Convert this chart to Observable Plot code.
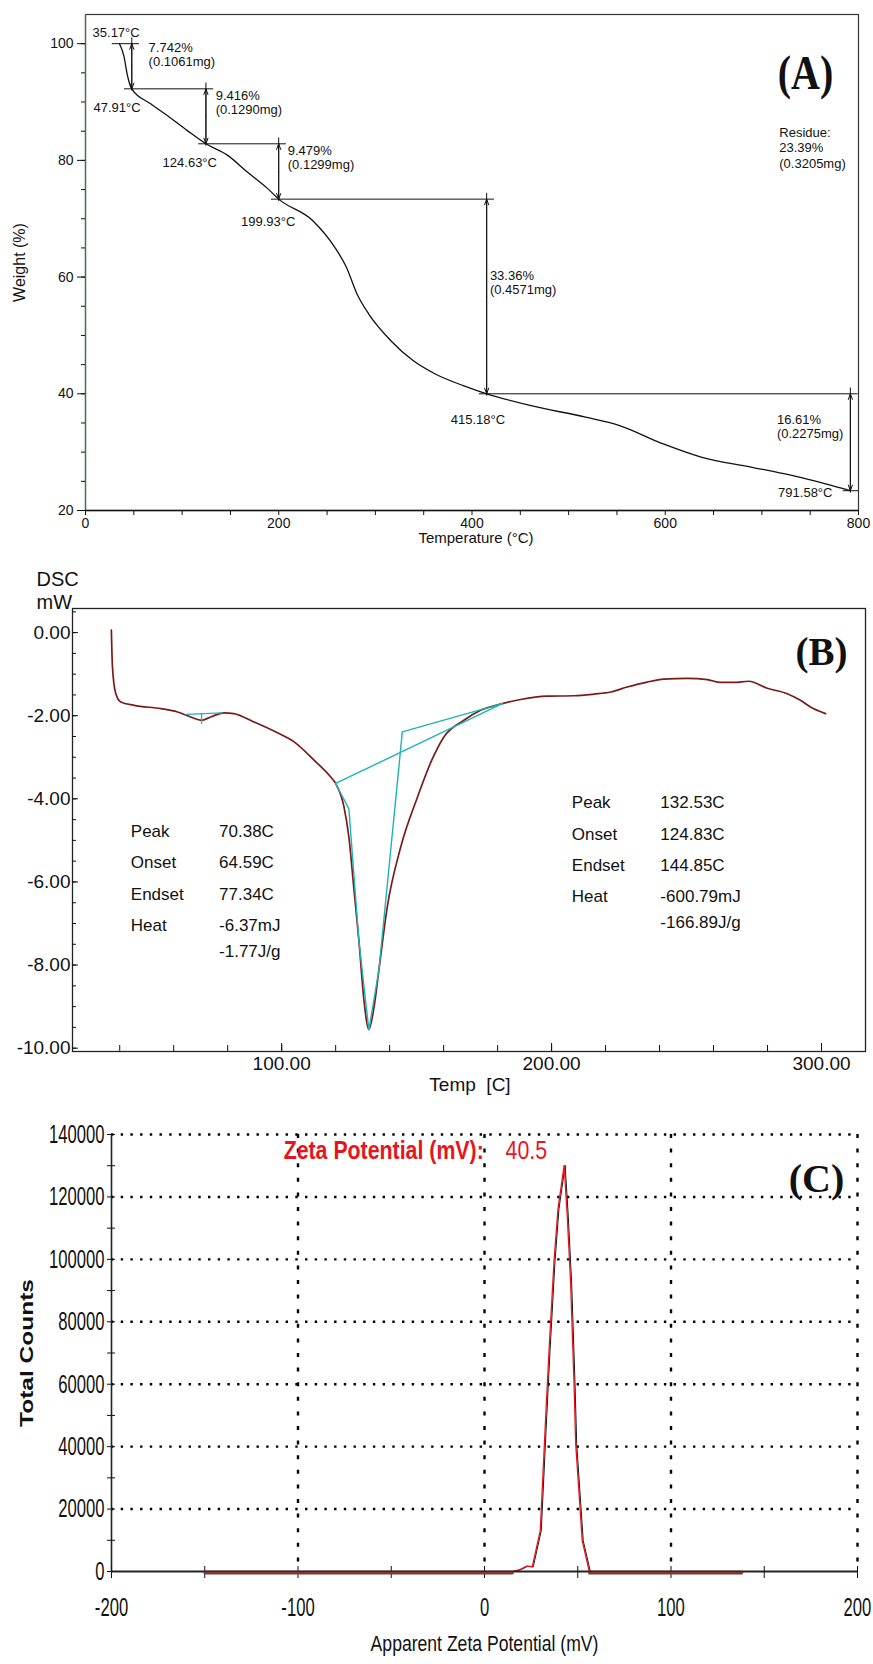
<!DOCTYPE html>
<html><head><meta charset="utf-8">
<script src="https://cdn.jsdelivr.net/npm/d3@7"></script>
<script src="https://cdn.jsdelivr.net/npm/@observablehq/plot@0.6"></script>
<style>
body{margin:0;background:#fff;}
#wrap{position:relative;width:873px;height:1664px;overflow:hidden;background:#fff;}
.panel{position:absolute;left:0;}
</style></head>
<body><div id="wrap"><div id="pa" class="panel" style="top:0"></div><div id="pb" class="panel" style="top:550px"></div><div id="pc" class="panel" style="top:1110px"></div></div>
<script>
// ================= DATA =================
// (A) TGA curve
const tgaTemp = [35.17, 39.7, 43.1, 47.91, 67.4, 84.6, 105.4, 124.63, 146.8, 167.5, 188.3, 199.93, 235, 258, 270, 281, 293, 316, 339, 362, 391, 415.18, 460, 517.5, 552, 598, 638, 690, 731, 765, 791.58];
const tgaWeight = [100, 97.9, 94.8, 92.26, 89.7, 87.7, 85.1, 82.84, 80.9, 78.0, 75.2, 73.36, 69.7, 65.1, 61.7, 57.1, 53.7, 49.1, 45.7, 43.4, 41.4, 40.0, 38.0, 36.0, 34.6, 31.4, 29.1, 27.4, 26.0, 24.6, 23.39];
const stepTemp = [35.17, 47.91, 124.63, 199.93, 415.18, 791.58];
const stepWeight = [100, 92.26, 82.84, 73.36, 40.00, 23.39];
const lossPct = ["7.742%", "9.416%", "9.479%", "33.36%", "16.61%"];
const lossMg = ["(0.1061mg)", "(0.1290mg)", "(0.1299mg)", "(0.4571mg)", "(0.2275mg)"];
const residueText = ["Residue:", "23.39%", "(0.3205mg)"];
const tgaXTicks = [0, 200, 400, 600, 800];
const tgaYTicks = [20, 40, 60, 80, 100];

// (B) DSC curve
const dscTemp = [36.9, 37.3, 38.5, 40.4, 45.3, 55.2, 61.4, 66.3, 70.3, 73.7, 78.6, 82.3, 89.7, 98.4, 104.6, 112, 118.1, 120, 123.1, 124.9, 126.8, 128.6, 130.5, 132.3, 134.2, 136, 139.1, 144.1, 150.3, 155.6, 160.1, 167.5, 173.7, 181.7, 188.5, 198.4, 208.3, 215.7, 221.9, 228, 235.4, 241.6, 250.3, 257.7, 262.6, 267.5, 273.1, 279.9, 287.3, 292.2, 295.9, 301.5];
const dscMw = [0.06, -0.82, -1.46, -1.67, -1.75, -1.83, -1.91, -2.03, -2.11, -2.03, -1.93, -1.95, -2.15, -2.41, -2.63, -3.07, -3.47, -3.63, -4.20, -4.92, -6.20, -7.41, -8.86, -9.55, -9.02, -8.13, -6.61, -5.16, -3.96, -3.07, -2.51, -2.11, -1.87, -1.71, -1.61, -1.53, -1.52, -1.48, -1.43, -1.31, -1.19, -1.12, -1.10, -1.13, -1.20, -1.20, -1.17, -1.34, -1.47, -1.63, -1.79, -1.95];
const fitPeakTemp = [120, 124.9, 128.6, 132.3, 136, 144.7, 181.7];
const fitPeakMw = [-3.63, -4.24, -7.41, -9.56, -8.13, -2.39, -1.71];
const fitBaseTemp = [120, 181.7];
const fitBaseMw = [-3.63, -1.71];
const smallBaseTemp = [64.4, 78];
const smallBaseMw = [-1.97, -1.93];
const smallPeakTemp = [70.3, 70.3];
const smallPeakMw = [-1.95, -2.19];
const tableKeys = ["Peak", "Onset", "Endset", "Heat", ""];
const tableLeft = ["70.38C", "64.59C", "77.34C", "-6.37mJ", "-1.77J/g"];
const tableRight = ["132.53C", "124.83C", "144.85C", "-600.79mJ", "-166.89J/g"];
const dscXTicks = [100, 200, 300];
const dscYTicks = [0, -2, -4, -6, -8, -10];

// (C) Zeta potential
const zetaMv = [-150, 15, 19, 22.6, 25.6, 29.9, 32.8, 34.6, 37.3, 39.4, 42.7, 44.4, 46.2, 48.0, 48.9, 52.4, 56.2, 138];
const zetaCounts = [0, 0, 600, 1700, 1500, 13100, 49400, 70800, 99700, 116200, 130100, 113600, 92200, 60200, 40900, 9900, 0, 0];
const zetaValue = "40.5";
const zetaXTicks = [-200, -100, 0, 100, 200];
const zetaYTicks = [0, 20000, 40000, 60000, 80000, 100000, 120000, 140000];

// ================= LAYOUT (label anchors, in data units) =================
const tempLabelPos = [[7.3, 101.9], [8.3, 89.0], [79.8, 79.55], [161, 69.45], [378, 35.6], [716.8, 23.0]];
const lossLabelPos = [[65.3, 99.25], [134.7, 91.0], [209.3, 81.6], [418.5, 60.3], [715.6, 35.5]];
const residuePos = [718, 82.2];
const tableLeftPos = {key: 44.1, val: 76.8, y: -4.78};
const tableRightPos = {key: 207.5, val: 240.3, y: -4.10};
const tableRowOffsets = [0, 31.5, 63, 94, 120];
const zetaTitlePos = {x: -107.7, xv: 11.3, y: 134900};

// ================= HELPERS =================
const SANS = "'Liberation Sans', Arial, Helvetica, sans-serif";
const SERIF = "'Liberation Serif', 'Times New Roman', serif";
const W = 873;
function squeeze(svg, match, sx, sy) {
  svg.querySelectorAll("text").forEach(t => {
    if (!match(t.textContent)) return;
    const tr = t.getAttribute("transform") || "";
    const x = +t.getAttribute("x") || 0, y = +t.getAttribute("y") || 0;
    t.setAttribute("transform", `${tr} translate(${x},${y}) scale(${sx},${sy}) translate(${-x},${-y})`);
  });
}
const zip = (a, b, ka, kb) => a.map((v, i) => ({[ka]: v, [kb]: b[i]}));

// ================= PANEL A =================
{
  const tga = zip(tgaTemp, tgaWeight, "t", "w");
  const n = stepTemp.length;
  const hLines = stepTemp.map((t, i) => ({y: stepWeight[i], x1: t - 7.5, x2: i < n - 1 ? Math.min(800, stepTemp[i + 1] + 8) : 800}));
  const vRules = [], arrows = [];
  for (let i = 0; i < n - 1; i++) {
    const x = stepTemp[i + 1], a = stepWeight[i], b = stepWeight[i + 1], m = (a + b) / 2;
    vRules.push({x, y1: a + 1.0, y2: b - 0.4});
    arrows.push({x, y1: m, y2: a}, {x, y1: m, y2: b});
  }
  const tempLabels = stepTemp.map((t, i) => ({x: tempLabelPos[i][0], y: tempLabelPos[i][1], s: t.toFixed(2) + "°C"}));
  const lossLabels = lossPct.map((p, i) => ({x: lossLabelPos[i][0], y: lossLabelPos[i][1], p, mg: lossMg[i]}));
  const svg = Plot.plot({
    width: W, height: 550, marginTop: 14, marginLeft: 85, marginRight: 15, marginBottom: 40,
    x: {domain: [0, 800], label: null}, y: {domain: [20, 105], label: null},
    style: {fontFamily: SANS, fontSize: "13px", color: "#111", background: "white", overflow: "visible"},
    marks: [
      Plot.frame({stroke: "#333", strokeWidth: 1.2}),
      Plot.ruleX([0], {stroke: "#3d7a3d", strokeWidth: 1.3}),
      Plot.ruleY([20], {stroke: "#111", strokeWidth: 1.3}),
      Plot.axisY(d3.range(20, 101, 5), {tickSize: 4, fill: "none", label: null}),
      Plot.axisY(tgaYTicks, {tickSize: 8, fill: "none", label: null}),
      Plot.axisY(tgaYTicks, {tickSize: 0, tickPadding: 12, fontSize: 14, label: null, tickFormat: d => String(d)}),
      Plot.axisX(d3.range(0, 801, 50), {tickSize: 5, fill: "none", label: null}),
      Plot.axisX(tgaXTicks, {tickSize: 0, tickPadding: 8, fontSize: 14, label: null, tickFormat: d => String(d)}),
      Plot.line(tga, {x: "t", y: "w", stroke: "#111", strokeWidth: 1.3, curve: "monotone-x"}),
      Plot.ruleY(hLines, {y: "y", x1: "x1", x2: "x2", stroke: "#111", strokeWidth: 1}),
      Plot.ruleX(vRules, {x: "x", y1: "y1", y2: "y2", stroke: "#111", strokeWidth: 1}),
      Plot.arrow(arrows, {x1: "x", x2: "x", y1: "y1", y2: "y2", headLength: 9, headAngle: 40, stroke: "#111", strokeWidth: 1}),
      Plot.text(tempLabels, {x: "x", y: "y", text: "s", textAnchor: "start", fontSize: 13}),
      Plot.text(lossLabels, {x: "x", y: "y", text: "p", textAnchor: "start", fontSize: 13}),
      Plot.text(lossLabels, {x: "x", y: "y", text: "mg", textAnchor: "start", fontSize: 13, dy: 14}),
      Plot.text([residueText.join("\n")], {x: residuePos[0], y: residuePos[1], textAnchor: "start", fontSize: 13, lineHeight: 1.18}),
      Plot.text(["(A)"], {frameAnchor: "top-right", textAnchor: "middle", dx: -53, dy: 40, fontFamily: SERIF, fontWeight: "bold", fontSize: 40}),
      Plot.text(["Weight (%)"], {frameAnchor: "left", textAnchor: "middle", dx: -65.5, rotate: -90, fontSize: 16}),
      Plot.text(["Temperature (°C)"], {frameAnchor: "bottom", textAnchor: "middle", dx: 4, dy: 32, fontSize: 15})
    ]
  });
  squeeze(svg, s => s === "(A)", 1, 1.2);
  document.getElementById("pa").append(svg);
}

// ================= PANEL B =================
{
  const dsc = zip(dscTemp, dscMw, "t", "v");
  const fitPeak = zip(fitPeakTemp, fitPeakMw, "t", "v");
  const fitBase = zip(fitBaseTemp, fitBaseMw, "t", "v");
  const smallBase = zip(smallBaseTemp, smallBaseMw, "t", "v");
  const smallPeak = zip(smallPeakTemp, smallPeakMw, "t", "v");
  const tableMarks = [];
  tableKeys.forEach((k, i) => {
    const dy = tableRowOffsets[i];
    for (const [pos, vals] of [[tableLeftPos, tableLeft], [tableRightPos, tableRight]]) {
      if (k) tableMarks.push(Plot.text([k], {x: pos.key, y: pos.y, dy, textAnchor: "start", fontSize: 17}));
      tableMarks.push(Plot.text([vals[i]], {x: pos.val, y: pos.y, dy, textAnchor: "start", fontSize: 17}));
    }
  });
  const cyan = "#1db3b3";
  const svg = Plot.plot({
    width: W, height: 560, marginTop: 58, marginLeft: 72, marginRight: 8, marginBottom: 59,
    x: {domain: [22.5, 316.3], label: null}, y: {domain: [-10.08, 0.58], label: null},
    style: {fontFamily: SANS, fontSize: "17px", color: "#111", background: "white", overflow: "visible"},
    marks: [
      Plot.frame({stroke: "#222", strokeWidth: 1.3}),
      Plot.axisY(d3.range(-10, 0.51, 0.5), {tickSize: 4, dx: 4, fill: "none", label: null}),
      Plot.axisY(dscYTicks, {tickSize: 6, dx: 6, fill: "none", label: null}),
      Plot.axisY(dscYTicks, {tickSize: 0, tickPadding: 2, fontSize: 19, label: null, tickFormat: d => d.toFixed(2)}),
      Plot.axisX(d3.range(40, 301, 20), {tickSize: 6, dy: -6, fill: "none", label: null}),
      Plot.axisX(dscXTicks, {tickSize: 8, dy: -8, fill: "none", label: null}),
      Plot.axisX(dscXTicks, {tickSize: 0, tickPadding: 5, fontSize: 19, label: null, tickFormat: d => d.toFixed(2)}),
      Plot.line(dsc, {x: "t", y: "v", stroke: "#7a1b1b", strokeWidth: 1.7, curve: "monotone-x"}),
      Plot.line(fitPeak, {x: "t", y: "v", stroke: cyan, strokeWidth: 1.4}),
      Plot.line(fitBase, {x: "t", y: "v", stroke: cyan, strokeWidth: 1.4}),
      Plot.line(smallBase, {x: "t", y: "v", stroke: cyan, strokeWidth: 1.3}),
      Plot.line(smallPeak, {x: "t", y: "v", stroke: cyan, strokeWidth: 1.3}),
      ...tableMarks,
      Plot.text(["(B)"], {frameAnchor: "top-right", textAnchor: "middle", dx: -44, dy: 29, fontFamily: SERIF, fontWeight: "bold", fontSize: 39}),
      Plot.text(["DSC"], {frameAnchor: "top-left", dx: -36, dy: -36.6, textAnchor: "start", fontSize: 20}),
      Plot.text(["mW"], {frameAnchor: "top-left", dx: -36, dy: -13.3, textAnchor: "start", fontSize: 20}),
      Plot.text(["Temp  [C]"], {frameAnchor: "bottom", textAnchor: "middle", dx: 1, dy: 39, fontSize: 19})
    ]
  });
  svg.querySelectorAll("text").forEach(t => { t.setAttribute("xml:space", "preserve"); t.style.whiteSpace = "pre"; });
  document.getElementById("pb").append(svg);
}

// ================= PANEL C =================
{
  const zeta = zip(zetaMv, zetaCounts, "mv", "c");
  const dots = {stroke: "black", strokeOpacity: 1, strokeWidth: 2.4};
  const svg = Plot.plot({
    width: W, height: 554, marginTop: 24, marginLeft: 111, marginRight: 16, marginBottom: 93,
    x: {domain: [-200, 200], label: null}, y: {domain: [0, 140000], label: null},
    style: {fontFamily: SANS, fontSize: "20px", color: "#111", background: "white", overflow: "visible"},
    marks: [
      Plot.gridY(zetaYTicks.filter(v => v > 0), {...dots, strokeDasharray: "2.4,7.3"}),
      Plot.gridX(zetaXTicks.filter(v => v > -200), {...dots, strokeDasharray: "4,10.6"}),
      Plot.ruleX([-200], {stroke: "#222", strokeWidth: 1.6}),
      Plot.axisY(d3.range(0, 140001, 10000), {tickSize: 8, dx: 4, fill: "none", label: null}),
      Plot.axisY(zetaYTicks, {tickSize: 0, tickPadding: 7, fontSize: 26, label: null, tickFormat: d => String(d)}),
      Plot.axisX(d3.range(-200, 201, 50), {tickSize: 12, dy: -5, fill: "none", label: null}),
      Plot.axisX(zetaXTicks, {tickSize: 0, tickPadding: 26.5, fontSize: 26, label: null, tickFormat: d => String(d)}),
      Plot.line(zeta, {x: "mv", y: "c", stroke: "#111", strokeWidth: 1, dx: 1}),
      Plot.line(zeta, {x: "mv", y: "c", stroke: "#e8141b", strokeWidth: 1.3}),
      Plot.ruleY([0], {stroke: "#222", strokeWidth: 2}),
      Plot.line(zeta, {x: "mv", y: d => d.c === 0 ? 0 : NaN, stroke: "#7a3a30", strokeWidth: 2.6, dy: 1.6}),
      Plot.text(["Zeta Potential (mV):"], {x: zetaTitlePos.x, y: zetaTitlePos.y, textAnchor: "start", fill: "#e8141b", fontWeight: "bold", fontSize: 26}),
      Plot.text([zetaValue], {x: zetaTitlePos.xv, y: zetaTitlePos.y, textAnchor: "start", fill: "#e8141b", fontSize: 26}),
      Plot.text(["(C)"], {frameAnchor: "top-right", textAnchor: "middle", dx: -41, dy: 29, fontFamily: SERIF, fontWeight: "bold", fontSize: 40}),
      Plot.text(["Total Counts"], {frameAnchor: "left", textAnchor: "middle", dx: -84, rotate: -90, fontSize: 24.5, fontWeight: "bold"}),
      Plot.text(["Apparent Zeta Potential (mV)"], {frameAnchor: "bottom", textAnchor: "middle", dy: 79, fontSize: 22})
    ]
  });
  squeeze(svg, s => /^-?\d+$/.test(s), 0.64, 1);
  squeeze(svg, s => s === "Zeta Potential (mV):" || s === zetaValue, 0.82, 1);
  squeeze(svg, s => s === "Total Counts", 1, 0.76);
  squeeze(svg, s => s === "Apparent Zeta Potential (mV)", 0.8, 1);
  document.getElementById("pc").append(svg);
}
</script>
</body></html>
